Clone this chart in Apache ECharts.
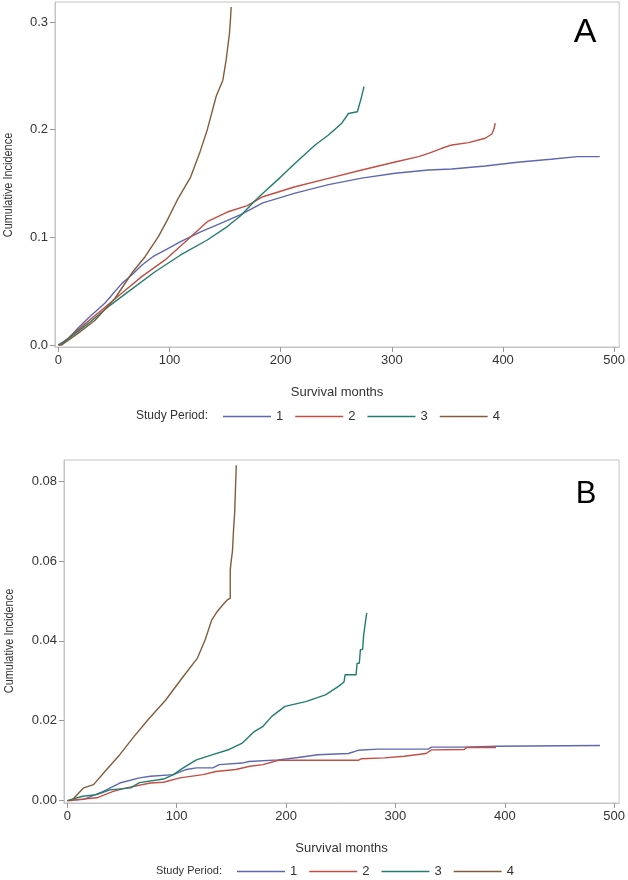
<!DOCTYPE html>
<html>
<head>
<meta charset="utf-8">
<title>Cumulative incidence by study period</title>
<script src="https://cdn.jsdelivr.net/npm/echarts@6/dist/echarts.min.js"></script>
<style>
html, body { margin: 0; padding: 0; background: #fff; }
#chart { width: 628px; height: 880px; }
</style>
</head>
<body>
<div id="chart"></div>
<script>
const periods = ['1', '2', '3', '4']
const xTicks = [0, 100, 200, 300, 400, 500]
const yTicksA = [0, 0.1, 0.2, 0.3]
const yTicksB = [0, 0.02, 0.04, 0.06, 0.08]

// panel A, [survival months, cumulative incidence]
const incidenceA1 = [[0, 0], [3, 0.002], [9, 0.006], [18, 0.016], [27, 0.025], [42, 0.039], [57, 0.057], [66, 0.065], [75, 0.074], [85, 0.082], [96, 0.088], [110, 0.096], [128, 0.105], [146, 0.113], [164, 0.121], [184, 0.132], [213, 0.141], [243, 0.149], [273, 0.155], [303, 0.1595], [333, 0.1625], [354, 0.1635], [384, 0.1663], [413, 0.1697], [443, 0.1725], [467, 0.175], [487, 0.175]]
const incidenceA2 = [[0, 0], [3, 0.001], [21, 0.017], [39, 0.0325], [57, 0.048], [75, 0.0635], [96, 0.079], [116, 0.0975], [134, 0.1145], [152, 0.1235], [170, 0.1295], [184, 0.1377], [213, 0.147], [243, 0.1548], [273, 0.1625], [303, 0.17], [324, 0.175], [333, 0.178], [345, 0.1827], [354, 0.1858], [369, 0.188], [384, 0.192], [390, 0.196], [392, 0.201], [393, 0.206]]
const incidenceA3 = [[0, 0], [3, 0.001], [27, 0.02], [45, 0.0356], [63, 0.0495], [87, 0.068], [110, 0.0836], [134, 0.0975], [152, 0.11], [164, 0.12], [176, 0.133], [184, 0.141], [199, 0.155], [213, 0.1687], [231, 0.1858], [243, 0.195], [255, 0.206], [261, 0.215], [269, 0.2167], [272, 0.2275], [275, 0.24]]
const incidenceA4 = [[0, 0], [3, 0], [18, 0.011], [33, 0.023], [51, 0.0434], [67, 0.068], [78, 0.082], [90, 0.1006], [98, 0.116], [107, 0.1347], [119, 0.156], [127, 0.178], [134, 0.2], [142, 0.231], [148, 0.246], [151, 0.265], [154, 0.29], [155, 0.305], [155.5, 0.314]]

// panel B, repeated months mark the vertical jumps of the step curves
const incidenceB1 = [[0, 0], [15, 0.0003], [33, 0.0023], [48, 0.0044], [66, 0.0057], [76, 0.0061], [97, 0.0065], [109, 0.0078], [118, 0.0082], [133, 0.0082], [139, 0.009], [160, 0.0094], [166, 0.0098], [193, 0.0102], [211, 0.0108], [229, 0.0115], [257, 0.0118], [266, 0.0126], [284, 0.0129], [330, 0.0129], [333, 0.0134], [363, 0.0134], [364, 0.0136], [392, 0.0136], [393, 0.0138], [487, 0.0138]]
const incidenceB2 = [[0, 0], [27, 0.0007], [42, 0.0023], [54, 0.0032], [76, 0.0044], [88, 0.0046], [103, 0.0057], [124, 0.0065], [136, 0.0073], [154, 0.0078], [167, 0.0086], [179, 0.009], [193, 0.0101], [266, 0.0101], [269, 0.0105], [290, 0.0107], [308, 0.0111], [328, 0.0118], [333, 0.0127], [363, 0.0128], [365, 0.0133], [392, 0.0133]]
const incidenceB3 = [[0, 0], [14, 0.0011], [27, 0.0015], [39, 0.0027], [58, 0.0032], [66, 0.0045], [88, 0.0054], [97, 0.0065], [106, 0.0082], [118, 0.0102], [133, 0.0115], [148, 0.0128], [160, 0.0144], [171, 0.0173], [179, 0.0186], [187, 0.0211], [199, 0.0236], [218, 0.0248], [236, 0.0265], [248, 0.0286], [253, 0.0297], [254, 0.0315], [264, 0.0315], [265, 0.0344], [267, 0.0344], [268, 0.0378], [270, 0.0378], [271, 0.0415], [272, 0.0415], [273.5, 0.0465], [274, 0.047]]
const incidenceB4 = [[0, 0], [4, 0], [15, 0.0032], [24, 0.004], [36, 0.0078], [48, 0.0115], [60, 0.0157], [74, 0.0203], [90, 0.0252], [105, 0.0307], [119, 0.0357], [126, 0.0402], [132, 0.0452], [137, 0.0473], [142, 0.049], [146, 0.0502], [149, 0.0507], [149, 0.0578], [150, 0.0603], [151, 0.0624], [152, 0.0678], [153, 0.0719], [154.5, 0.0723], [154.5, 0.084]]

const colors = ['#5e68b0', '#c24e44', '#237d6e', '#855c3a']
const font = "'Liberation Sans', Arial, sans-serif"

const chart = echarts.init(document.getElementById('chart'))

function xAxisFor(gridIndex, nameGap) {
  return {
    gridIndex,
    type: 'value',
    min: -3,
    max: 504.5,
    name: 'Survival months',
    nameLocation: 'middle',
    nameGap,
    nameTextStyle: { fontFamily: font, fontSize: 13, color: '#333' },
    axisLine: { onZero: false, lineStyle: { color: '#c4c4c4' } },
    axisTick: { length: 5, customValues: xTicks, lineStyle: { color: '#999' } },
    axisLabel: { customValues: xTicks, margin: 7, fontFamily: font, fontSize: 13, color: '#333' },
    splitLine: { show: false }
  }
}

function yAxisFor(gridIndex, min, max, ticks, digits) {
  return {
    gridIndex,
    type: 'value',
    min,
    max,
    axisLine: { onZero: false, lineStyle: { color: '#c4c4c4' } },
    axisTick: { length: 5, customValues: ticks, lineStyle: { color: '#999' } },
    axisLabel: {
      customValues: ticks,
      margin: 7,
      fontFamily: font,
      fontSize: 13,
      color: '#333',
      formatter: v => v.toFixed(digits)
    },
    splitLine: { show: false }
  }
}

function lineSeries(name, data, panel, i) {
  return {
    name,
    type: 'line',
    xAxisIndex: panel,
    yAxisIndex: panel,
    data,
    symbol: 'none',
    showSymbol: false,
    color: colors[i],
    lineStyle: { width: 1.4, color: colors[i] }
  }
}

const legendBase = {
  data: periods,
  orient: 'horizontal',
  icon: 'rect',
  itemWidth: 48,
  itemHeight: 1.5,
  itemGap: 12,
  textStyle: { fontFamily: font, fontSize: 13, color: '#333' }
}

// rotated axis title, squeezed to match the narrow face of the original
function yTitle(x, y) {
  return {
    type: 'text', x, y, rotation: Math.PI / 2, scaleX: 0.84,
    style: { text: 'Cumulative Incidence', font: '13px ' + font, fill: '#333', align: 'center', verticalAlign: 'middle' }
  }
}

const option = {
  animation: false,
  backgroundColor: '#fff',
  grid: [
    { left: 55, top: 2, width: 567, height: 345, show: true, borderColor: '#c4c4c4', borderWidth: 1 },
    { left: 64, top: 460, width: 558, height: 343, show: true, borderColor: '#c4c4c4', borderWidth: 1 }
  ],
  xAxis: [xAxisFor(0, 39), xAxisFor(1, 39)],
  yAxis: [
    yAxisFor(0, -0.0019, 0.3186, yTicksA, 1),
    yAxisFor(1, -0.0006, 0.0853, yTicksB, 2)
  ],
  legend: [
    Object.assign({}, legendBase, { left: 218, top: 405 }),
    Object.assign({}, legendBase, { left: 232, top: 860 })
  ],
  series: [
    lineSeries('1', incidenceA1, 0, 0),
    lineSeries('2', incidenceA2, 0, 1),
    lineSeries('3', incidenceA3, 0, 2),
    lineSeries('4', incidenceA4, 0, 3),
    lineSeries('1', incidenceB1, 1, 0),
    lineSeries('2', incidenceB2, 1, 1),
    lineSeries('3', incidenceB3, 1, 2),
    lineSeries('4', incidenceB4, 1, 3)
  ],
  graphic: [
    yTitle(8, 185),
    yTitle(9, 641),
    { type: 'text', x: 208, y: 416,
      style: { text: 'Study Period:', font: '12px ' + font, fill: '#333', align: 'right', verticalAlign: 'middle' } },
    { type: 'text', x: 222, y: 871,
      style: { text: 'Study Period:', font: '11px ' + font, fill: '#333', align: 'right', verticalAlign: 'middle' } },
    { type: 'text', x: 585, y: 33,
      style: { text: 'A', font: '34px ' + font, fill: '#000', align: 'center', verticalAlign: 'middle' } },
    { type: 'text', x: 586, y: 494,
      style: { text: 'B', font: '31px ' + font, fill: '#000', align: 'center', verticalAlign: 'middle' } }
  ]
}

chart.setOption(option)
</script>
</body>
</html>
